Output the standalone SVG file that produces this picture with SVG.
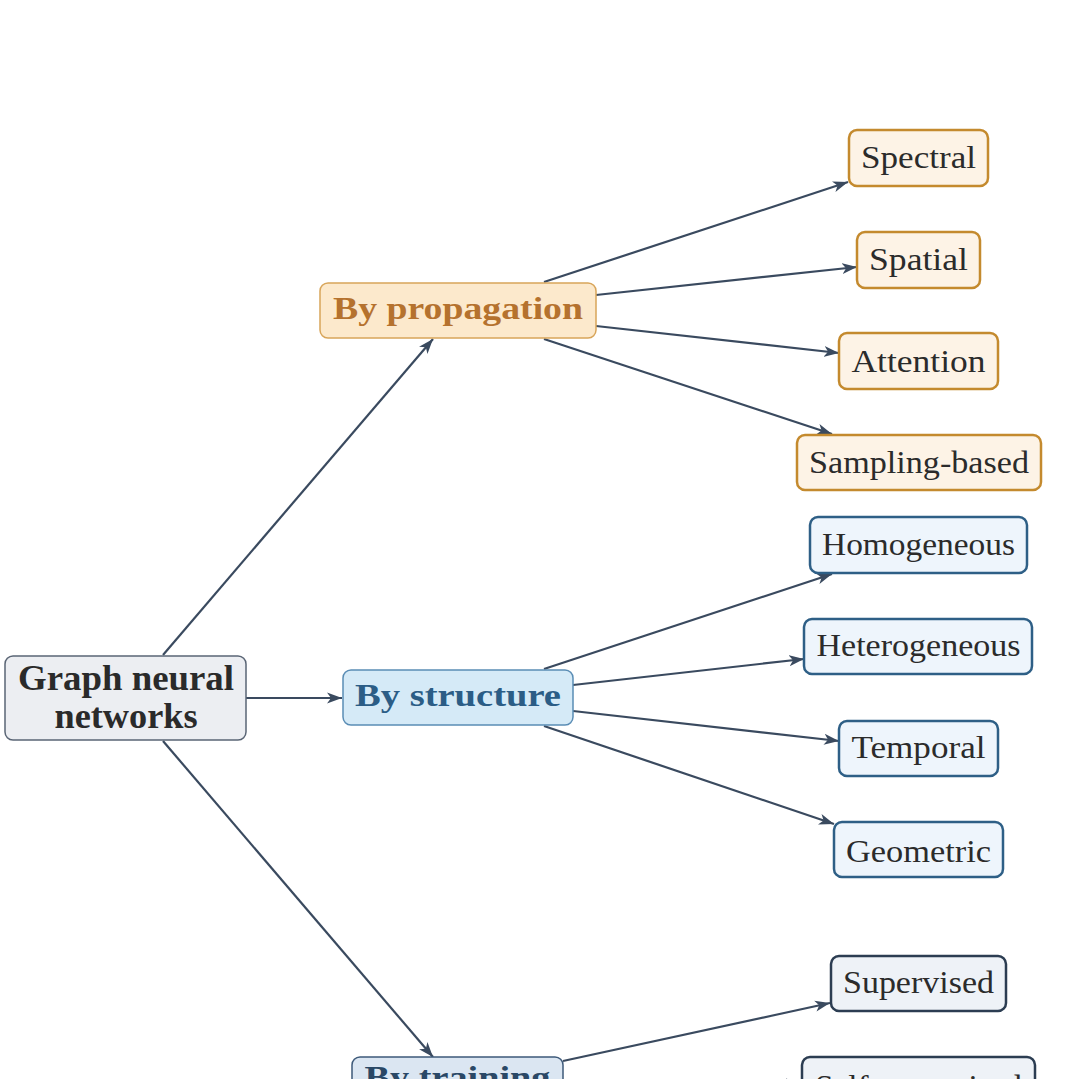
<svg xmlns="http://www.w3.org/2000/svg" width="1080" height="1079" viewBox="0 0 1080 1079">
<defs>
<marker id="ah" markerUnits="userSpaceOnUse" markerWidth="16" markerHeight="12" viewBox="0 0 16 12" refX="15" refY="6" orient="auto">
<path d="M0,0.5 L15,6 L0,11.5 L4,6 z" fill="#3a4a5f"/>
</marker>
<style>
.edge{stroke:#3a4a5f;stroke-width:2.2;fill:none;marker-end:url(#ah)}
.t{font-family:"Liberation Serif","Times New Roman",serif;text-anchor:middle}
.b{font-weight:bold}
.r{font-size:31px;fill:#2b2b2b}
.m{font-size:31px}
.root{fill:#eceef2;stroke:#5a6575;stroke-width:1.5}
.prop{fill:#fce9cc;stroke:#d8a55a;stroke-width:1.5}
.propc{fill:#fdf3e6;stroke:#c48a2e;stroke-width:2.5}
.str{fill:#d5eaf7;stroke:#5a8db5;stroke-width:1.5}
.strc{fill:#eef5fc;stroke:#2e5f86;stroke-width:2.5}
.trn{fill:#dbe6f2;stroke:#3e5a7a;stroke-width:1.5}
.trnc{fill:#eef2f7;stroke:#2c3d52;stroke-width:2.5}
</style>
</defs>
<rect width="1080" height="1079" fill="#ffffff"/>
<g id="connectors">
<line class="edge" x1="163" y1="655" x2="433" y2="339"/>
<line class="edge" x1="246" y1="698" x2="342" y2="698"/>
<line class="edge" x1="163" y1="741" x2="433" y2="1057"/>
<line class="edge" x1="544" y1="282" x2="848" y2="182"/>
<line class="edge" x1="596" y1="295" x2="857" y2="267"/>
<line class="edge" x1="596" y1="326" x2="839" y2="353"/>
<line class="edge" x1="544" y1="339" x2="832" y2="434"/>
<line class="edge" x1="544" y1="669" x2="832" y2="574"/>
<line class="edge" x1="573" y1="685" x2="804" y2="659"/>
<line class="edge" x1="573" y1="711" x2="839" y2="741"/>
<line class="edge" x1="544" y1="726" x2="834" y2="824"/>
<line class="edge" x1="563" y1="1061" x2="830" y2="1003"/>
<line class="edge" x1="563" y1="1098" x2="801" y2="1083"/>
</g>
<g id="root">
<rect class="root" x="5" y="656" width="241" height="84" rx="8"/>
<text class="t b" x="126" y="690" font-size="35" fill="#2a2a2a" textLength="216" lengthAdjust="spacingAndGlyphs">Graph neural</text>
<text class="t b" x="126" y="728" font-size="35" fill="#2a2a2a" textLength="143" lengthAdjust="spacingAndGlyphs">networks</text>
</g>
<g id="by-propagation">
<rect class="prop" x="320" y="283" width="276" height="55" rx="8"/>
<text class="t b m" x="458" y="319" fill="#b5722e" textLength="250" lengthAdjust="spacingAndGlyphs">By propagation</text>
</g>
<g id="spectral">
<rect class="propc" x="849" y="130" width="139" height="56" rx="8"/>
<text class="t r" x="918.5" y="168" textLength="115" lengthAdjust="spacingAndGlyphs">Spectral</text>
</g>
<g id="spatial">
<rect class="propc" x="857" y="232" width="123" height="56" rx="8"/>
<text class="t r" x="918.5" y="270" textLength="99" lengthAdjust="spacingAndGlyphs">Spatial</text>
</g>
<g id="attention">
<rect class="propc" x="839" y="333" width="159" height="56" rx="8"/>
<text class="t r" x="918.5" y="372" textLength="134" lengthAdjust="spacingAndGlyphs">Attention</text>
</g>
<g id="sampling-based">
<rect class="propc" x="797" y="435" width="244" height="55" rx="8"/>
<text class="t r" x="919" y="473" textLength="220" lengthAdjust="spacingAndGlyphs">Sampling-based</text>
</g>
<g id="by-structure">
<rect class="str" x="343" y="670" width="230" height="55" rx="8"/>
<text class="t b m" x="458" y="706" fill="#2b5d86" textLength="206" lengthAdjust="spacingAndGlyphs">By structure</text>
</g>
<g id="homogeneous">
<rect class="strc" x="810" y="517" width="217" height="56" rx="8"/>
<text class="t r" x="918.5" y="555" textLength="193" lengthAdjust="spacingAndGlyphs">Homogeneous</text>
</g>
<g id="heterogeneous">
<rect class="strc" x="804" y="619" width="228" height="55" rx="8"/>
<text class="t r" x="918.5" y="656" textLength="204" lengthAdjust="spacingAndGlyphs">Heterogeneous</text>
</g>
<g id="temporal">
<rect class="strc" x="839" y="721" width="159" height="55" rx="8"/>
<text class="t r" x="918.5" y="758" textLength="134" lengthAdjust="spacingAndGlyphs">Temporal</text>
</g>
<g id="geometric">
<rect class="strc" x="834" y="822" width="169" height="55" rx="8"/>
<text class="t r" x="918.5" y="862" textLength="145" lengthAdjust="spacingAndGlyphs">Geometric</text>
</g>
<g id="by-training">
<rect class="trn" x="352" y="1057" width="211" height="60" rx="8"/>
<text class="t b m" x="457.5" y="1088" fill="#2a4866" textLength="186" lengthAdjust="spacingAndGlyphs">By training</text>
</g>
<g id="supervised">
<rect class="trnc" x="831" y="956" width="175" height="55" rx="8"/>
<text class="t r" x="918.5" y="993" textLength="151" lengthAdjust="spacingAndGlyphs">Supervised</text>
</g>
<g id="self-supervised">
<rect class="trnc" x="802" y="1057" width="233" height="60" rx="8"/>
<text class="t r" x="918.5" y="1097" textLength="207" lengthAdjust="spacingAndGlyphs">Self-supervised</text>
</g>
</svg>
